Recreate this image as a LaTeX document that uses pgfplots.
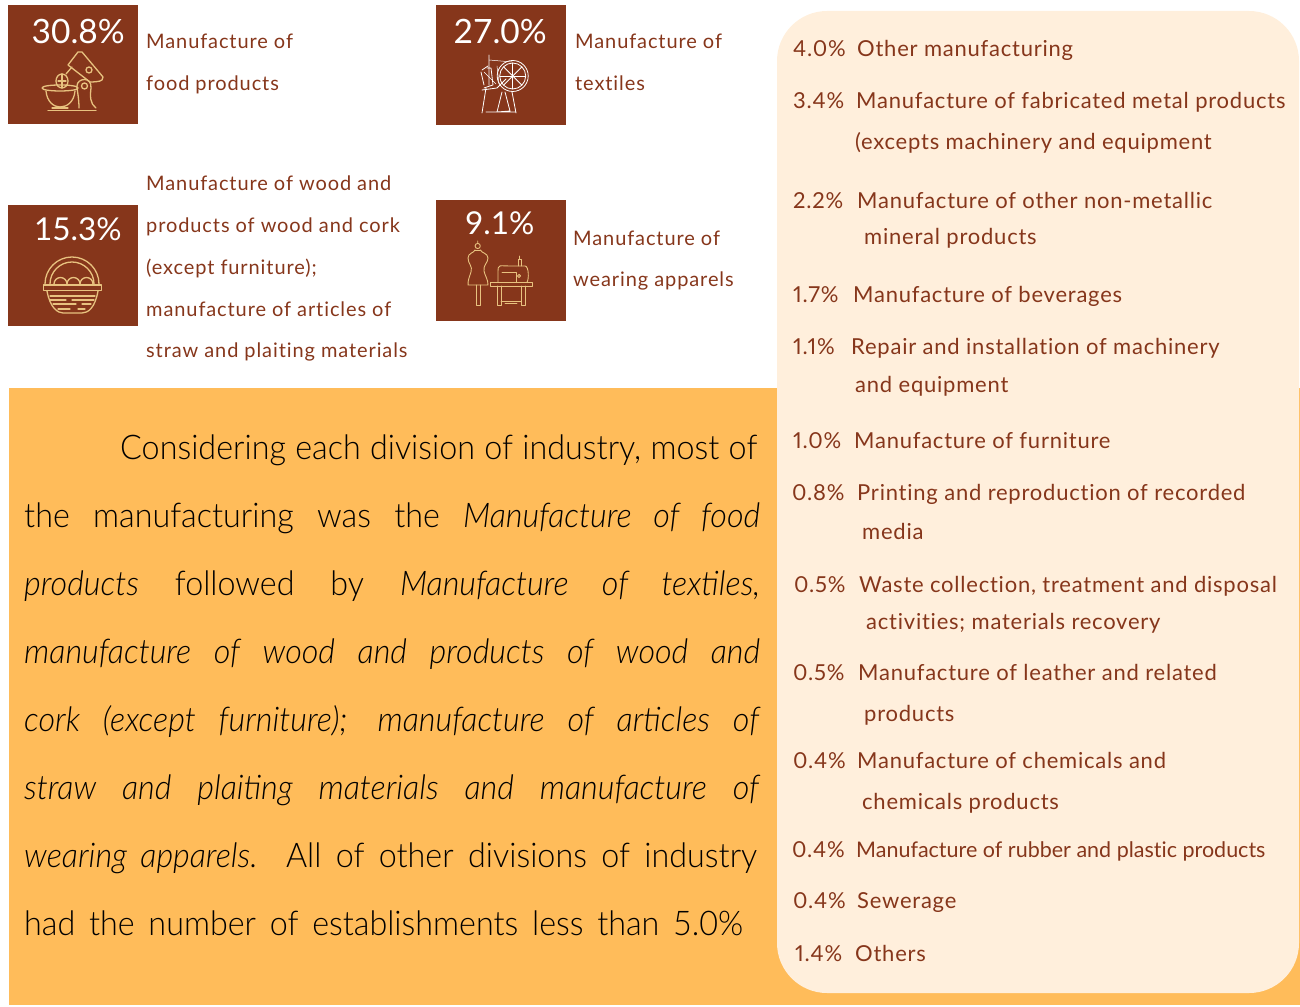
\documentclass[border=0pt]{standalone}
\usepackage{fontspec}
\usepackage{pgfplots}
\pgfplotsset{compat=1.18}
\setmainfont{Lato}
\newfontfamily\bodyfont[FakeStretch=0.95,ItalicFont={Lato Light Italic},ItalicFeatures={FakeStretch=0.95}]{Lato Light}
\newfontfamily\sidefont[LetterSpace=4.5,Ligatures=NoCommon]{Lato}
\newfontfamily\listfont[LetterSpace=3.5,Ligatures=NoCommon,Numbers=Proportional]{Lato}
\newfontfamily\tightfont[Ligatures=NoCommon]{Lato}
\definecolor{brn}{HTML}{86361B}
\definecolor{org}{HTML}{FFBC5A}
\definecolor{crm}{HTML}{FFEFDC}
\definecolor{tan}{HTML}{E8C27F}

% x, baseline y, text, size
\newcommand{\pct}[4]{\node[anchor=base west,inner sep=0pt,text=white,font=\fontsize{#4}{#4}\selectfont] at (axis cs:#1,#2) {#3};}
\newcommand{\lab}[3]{\node[anchor=base west,inner sep=0pt,text=brn,font=\sidefont\fontsize{20}{24}\selectfont] at (axis cs:#1,#2) {#3};}
\newcommand{\lst}[3]{\node[anchor=base west,inner sep=0pt,text=brn,font=\listfont\fontsize{22}{26}\selectfont,yshift=-1pt] at (axis cs:#1,#2) {#3};}
\newcommand{\row}[5]{\lst{#1}{#3}{#4}\lst{#2}{#3}{#5}}
% x, baseline y, width, text
\newcommand{\bodyline}[4]{\node[anchor=base west,inner sep=0pt,text=black,font=\bodyfont\fontsize{34}{40}\selectfont,yshift=-1pt] at (axis cs:#1,#2) {\makebox[#3pt][s]{#4}};}

\begin{document}
\begin{tikzpicture}
\begin{axis}[
  at={(0,0)},anchor=south west,
  scale only axis,width=1300pt,height=1006pt,
  xmin=0,xmax=1300,ymin=0,ymax=1006,y dir=reverse,
  hide axis,clip=false,enlargelimits=false]
% panels
\addplot[fill=org,draw=none,no markers] coordinates {(9,388) (1300,388) (1300,1005) (9,1005)} --cycle;
\addplot[fill=crm,draw=none,no markers,rounded corners=50pt] coordinates {(777,11) (1299,11) (1299,993) (777,993)} --cycle;
\addplot[fill=brn,draw=none,no markers] coordinates {(8,5) (138,5) (138,124.5) (8,124.5)} --cycle;
\addplot[fill=brn,draw=none,no markers] coordinates {(436,5) (566,5) (566,125.5) (436,125.5)} --cycle;
\addplot[fill=brn,draw=none,no markers] coordinates {(8,205) (138,205) (138,325.5) (8,325.5)} --cycle;
\addplot[fill=brn,draw=none,no markers] coordinates {(436,200) (566,200) (566,320.5) (436,320.5)} --cycle;
% big numbers
\pct{31.5}{44}{30.8\%}{33.5}
\pct{453.5}{44}{27.0\%}{33.5}
\pct{34}{240}{15.3\%}{31.5}
\pct{465}{234}{9.1\%}{31.5}
% labels beside the boxes
\lab{146}{49}{Manufacture of}
\lab{146}{91}{food products}
\lab{575}{49}{Manufacture of}
\lab{575}{91}{textiles}
\lab{146}{190}{Manufacture of wood and}
\lab{146}{232}{products of wood and cork}
\lab{146}{274}{(except furniture);}
\lab{146}{316}{manufacture of articles of}
\lab{146}{357}{straw and plaiting materials}
\lab{573}{245}{Manufacture of}
\lab{573}{286}{wearing apparels}
% list on the right
\row{793}{857}{56}{4.0\%}{Other manufacturing}
\row{793}{856}{108}{3.4\%}{Manufacture of fabricated metal products}
\lst{855}{148}{(excepts machinery and equipment}
\row{793}{857}{207}{2.2\%}{Manufacture of other non-metallic}
\lst{864}{243}{mineral products}
\row{793}{853}{301}{1.7\%}{Manufacture of beverages}
\row{793}{851}{353}{1.1\%}{Repair and installation of machinery}
\lst{855}{391}{and equipment}
\row{793}{854}{447}{1.0\%}{Manufacture of furniture}
\row{792}{857}{499}{0.8\%}{Printing and reproduction of recorded}
\lst{862}{538}{media}
\row{794}{859}{591}{0.5\%}{Waste collection, treatment and disposal}
\lst{866}{628}{activities; materials recovery}
\row{793}{858}{679}{0.5\%}{Manufacture of leather and related}
\lst{864}{720}{products}
\row{793}{857}{767}{0.4\%}{Manufacture of chemicals and}
\lst{862}{808}{chemicals products}
\lst{792}{856}{0.4\%}
\node[anchor=base west,inner sep=0pt,text=brn,font=\tightfont\fontsize{21.5}{26}\selectfont,yshift=-1pt] at (axis cs:856,856) {Manufacture of rubber and plastic products};
\row{793}{857}{907}{0.4\%}{Sewerage}
\row{795}{855}{960}{1.4\%}{Others}
% paragraph
\bodyline{120}{458}{637}{Considering each division of industry, most of}
\bodyline{24}{526}{736}{the manufacturing was the \textit{Manufacture of food}}
\bodyline{24}{594}{736}{\textit{products} followed by \textit{Manufacture of textiles,}}
\bodyline{24}{662}{736}{\textit{manufacture of wood and products of wood and}}
\bodyline{24}{730}{736}{\textit{cork (except furniture); manufacture of articles of}}
\bodyline{24}{798}{736}{\textit{straw and plaiting materials and manufacture of}}
\bodyline{24}{866}{733}{\textit{wearing apparels.} All of other divisions of industry}
\bodyline{24}{934}{719}{had the number of establishments less than 5.0\%}
\end{axis}
\useasboundingbox (0,0) rectangle (1300pt,1006pt);
% icons, in pixels from the top left corner (y runs down, so arcs go 180 to 360 for a dome)
\begin{scope}[shift={(0,1006pt)},x=1pt,y=-1pt,line width=1.3pt,draw=tan,line cap=round,line join=round]
% stand mixer
\draw (48,110.5) -- (96,110.5) (52,108) -- (68,108);
\draw (42,88) .. controls (42,84) and (78,84) .. (78,88) .. controls (78,92) and (42,92) .. (42,88);
\draw (46,91) .. controls (47,102) and (54,107) .. (60,107) .. controls (67,107) and (74,102) .. (75,91);
\draw (79,108) .. controls (79,98) and (77,90) .. (77,86) .. controls (77,78) and (92,76) .. (91,88) .. controls (90,96) and (90,104) .. (96,108);
\draw (84.5,86) circle (3);
\draw (62,81) ellipse (6 and 7);
\draw (58,81) -- (66,81) (62,74) -- (62,88);
\draw (66,74) -- (72,67);
\draw (68,65) -- (78,52) -- (82,52) -- (103,77) -- (102,80) .. controls (100,82) and (92,82) .. (90,82) -- cycle;
\draw (89,70) circle (3);
% basket
\draw (45,284) arc (180:360:27);
\draw (50,284) arc (180:360:22);
\draw (43.5,285) rectangle (101.5,290.5);
\draw (54,284) arc (180:360:6.5) (67,284) arc (180:360:6.5) (80,284) arc (180:360:6.5);
\draw (47,291) .. controls (50,308) and (58,313) .. (63,313) -- (82,313) .. controls (88,313) and (95,308) .. (98,291);
\draw (50,296) -- (95,296) (50,300) -- (66,300) (72,300) -- (94,300) (53,304) -- (76,304) (82,304) -- (91,304) (58,309) -- (70,309) (78,309) -- (85,309);
% mannequin and sewing machine
\begin{scope}[line width=.9pt]
\draw (477.7,246) circle (2.6) (477.7,243) -- (477.7,241);
\draw (475,250) -- (480.5,250);
\draw (475,250) .. controls (474,253) and (468,253) .. (468,258) .. controls (468,264) and (473,266) .. (471,272) .. controls (469,278) and (468,280) .. (468,285) -- (488,285) .. controls (488,279) and (485,276) .. (484,271) .. controls (483,265) and (488,263) .. (488,258) .. controls (488,253) and (481,253) .. (480.5,250);
\draw (476,285) -- (476,305) -- (480,305) -- (480,285);
\draw (490,282) rectangle (532,286);
\draw (497,286) -- (497,305) -- (501,305) -- (501,286) (521,286) -- (521,305) -- (525,305) -- (525,286);
\draw (501,301) -- (521,301) (505,303) -- (517,303);
\draw (498,282) -- (498,272) .. controls (498,264) and (499,266) .. (510,266) -- (525,266) .. controls (529,266) and (529,280) .. (527,282);
\draw (502,272) -- (516,272) -- (516,282);
\draw (519,276) circle (1.6);
\draw (518,266) -- (518,259) -- (521,259) -- (521,266) (519.5,259) -- (519.5,256);
\end{scope}
% spinning wheel
\begin{scope}[draw=white,line width=.8pt]
\draw (512.7,76) circle (15.5) (512.7,76) circle (13);
\foreach \a in {0,45,...,315} {\draw (512.7,76) -- ++(\a:13);}
\draw (489,55) -- (489,85) (487,68) -- (491,68) -- (493,85) -- (484,88) (482,90) -- (497,88) -- (506,79);
\draw (482,70) -- (488,66) (481,72) -- (484,85) (486,88) -- (482,113) (486,112) -- (516,112) (502,92) -- (497,112) -- (510,111) -- (505,92) (512,92) -- (516,113);
\draw[line width=.5pt] (484,72) -- (496,84) (489,60) -- (512,62) (497,66) -- (499,84);
\end{scope}
\end{scope}
\end{tikzpicture}
\end{document}
